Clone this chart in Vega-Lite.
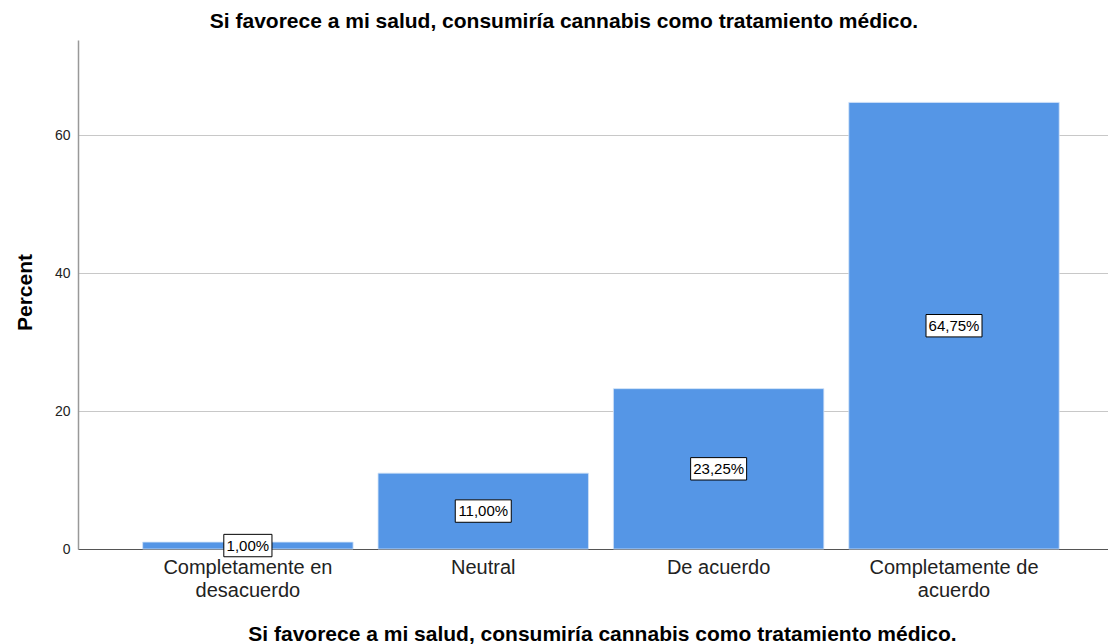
{
  "$schema": "https://vega.github.io/schema/vega-lite/v6.json",
  "autosize": {"type": "none"},
  "padding": {"left": 78, "top": 40, "right": 0, "bottom": 95},
  "width": 1030,
  "height": 509,
  "background": "white",
  "config": {"view": {"stroke": null}, "font": "Liberation Sans"},
  "title": {"text": "Si favorece a mi salud, consumiría cannabis como tratamiento médico.", "fontSize": 21, "fontWeight": "bold", "font": "Liberation Sans", "color": "#000000", "anchor": "middle", "dx": -29, "offset": 8},
  "data": {"values": [
    {"categoria": "Completamente en desacuerdo", "percent": 1.00, "label": "1,00%"},
    {"categoria": "Neutral", "percent": 11.00, "label": "11,00%"},
    {"categoria": "De acuerdo", "percent": 23.25, "label": "23,25%"},
    {"categoria": "Completamente de acuerdo", "percent": 64.75, "label": "64,75%"}
  ]},
  "encoding": {
    "x": {"field": "categoria", "type": "nominal", "sort": null,
      "scale": {"paddingInner": 0.106, "paddingOuter": 0.241, "align": 0.57},
      "axis": {
        "title": "Si favorece a mi salud, consumiría cannabis como tratamiento médico.",
        "titleFontSize": 21, "titleFontWeight": "bold", "titleColor": "#000000", "titleFont": "Liberation Sans",
        "titleX": 524, "titleY": 85, "titleBaseline": "middle", "titleAnchor": "start", "titleAlign": "center",
        "labelAngle": 0, "labelFontSize": 20, "labelColor": "#222222", "labelFont": "Liberation Sans",
        "labelPadding": 8, "labelLineHeight": 23,
        "labelExpr": "datum.value == 'Completamente en desacuerdo' ? ['Completamente en', 'desacuerdo'] : datum.value == 'Completamente de acuerdo' ? ['Completamente de', 'acuerdo'] : datum.value",
        "ticks": false, "domainColor": "#555555", "domainWidth": 1.2, "grid": false
      }
    }
  },
  "resolve": {"scale": {"y": "independent"}, "axis": {"y": "independent"}},
  "layer": [
    {
      "mark": {"type": "bar", "color": "#5596E6", "stroke": "#d0e2f8", "strokeWidth": 0.8},
      "encoding": {
        "y": {"field": "percent", "type": "quantitative",
          "scale": {"domain": [0, 73.8], "nice": false},
          "axis": {
            "title": "Percent", "titleFontSize": 21, "titleFontWeight": "bold", "titleColor": "#000000", "titleFont": "Liberation Sans",
            "titleX": -53, "titleY": 252, "titleAngle": -90, "titleBaseline": "middle", "titleAlign": "center",
            "values": [0, 20, 40, 60], "labelFontSize": 14, "labelColor": "#222222", "labelPadding": 8,
            "ticks": false, "domainColor": "#999999", "domainWidth": 1.5,
            "grid": true, "gridColor": "#c8c8c8", "gridWidth": 1.2
          }
        }
      }
    },
    {
      "mark": {"type": "point", "filled": true, "fill": "white", "stroke": "black", "strokeWidth": 1, "opacity": 1, "size": 3136},
      "encoding": {
        "y": {"field": "percent", "type": "quantitative", "scale": {"domain": [0, 147.6], "nice": false}, "axis": null},
        "shape": {"condition": {"test": "datum.percent < 10", "value": "M-0.86,-0.4L0.86,-0.4L0.86,0.4L-0.86,0.4Z"}, "value": "M-1,-0.4L1,-0.4L1,0.4L-1,0.4Z"}
      }
    },
    {
      "mark": {"type": "text", "fontSize": 15, "color": "#000000", "font": "Liberation Sans", "baseline": "middle", "align": "center"},
      "encoding": {
        "y": {"field": "percent", "type": "quantitative", "scale": {"domain": [0, 147.6], "nice": false}, "axis": null},
        "text": {"field": "label", "type": "nominal"}
      }
    }
  ]
}
